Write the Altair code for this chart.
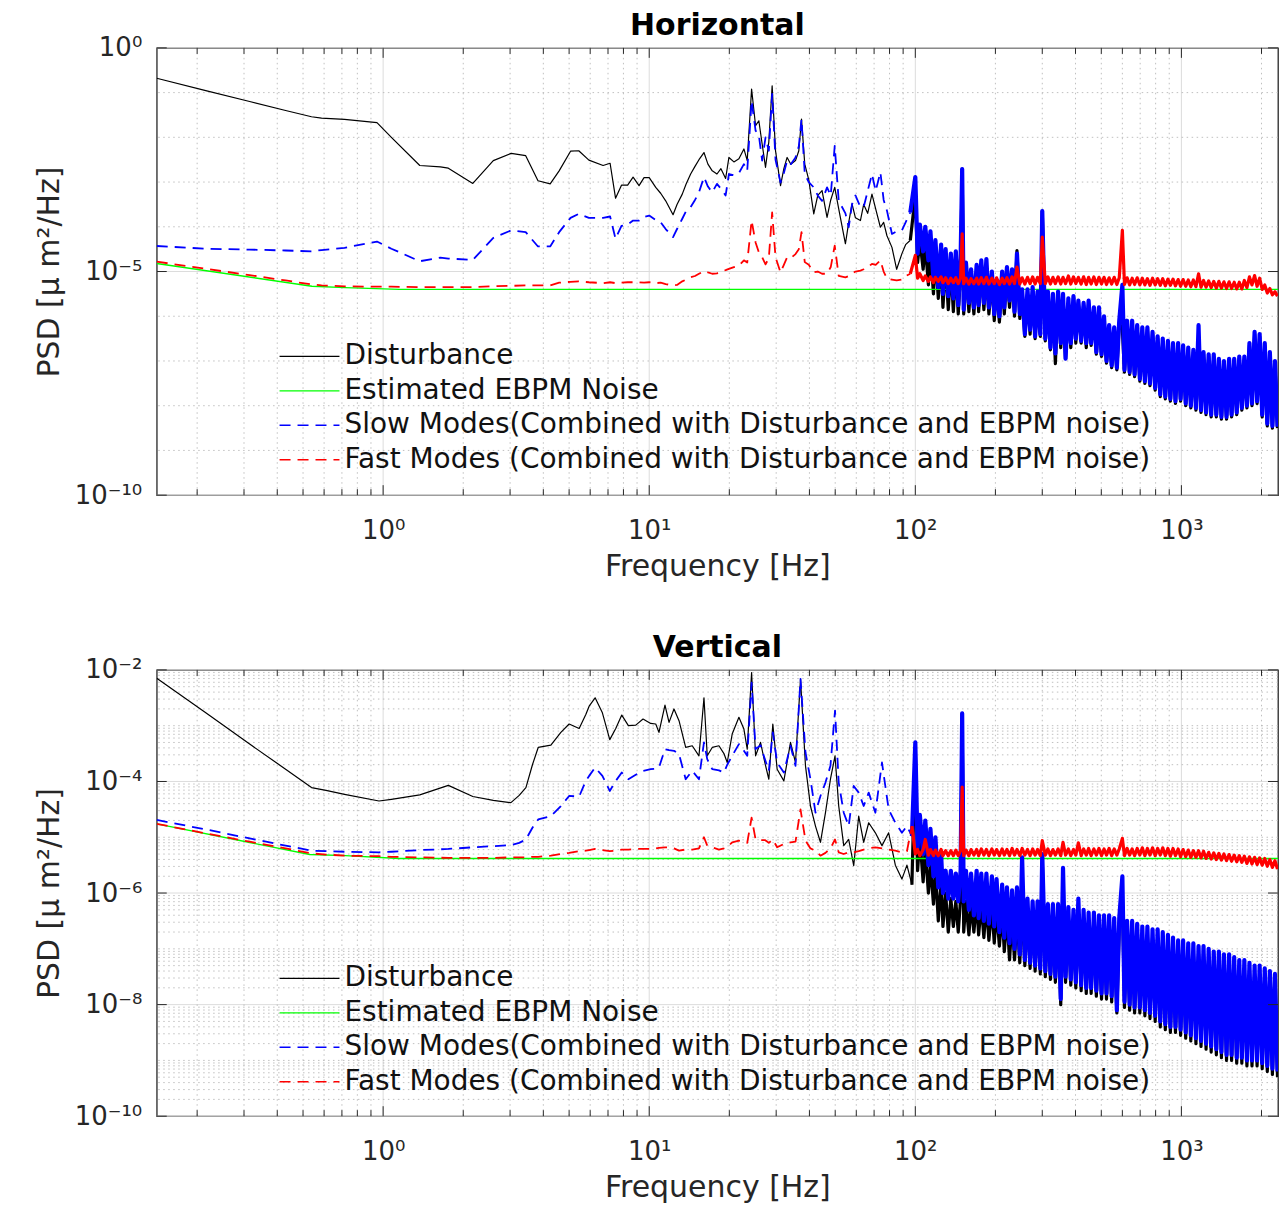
import json
import altair as alt
import numpy as np
import pandas as pd

FONT = "DejaVu Sans"
INK = "#262626"

# ---------------- legend / series definitions ----------------
series_names = [
    "Disturbance",
    "Estimated EBPM Noise",
    "Slow Modes(Combined with Disturbance and EBPM noise)",
    "Fast Modes (Combined with Disturbance and EBPM noise)",
]
series_colors = ["#000000", "#00ff00", "#0000ff", "#ff0000"]
series_dash = [None, None, [11, 7], [11, 7]]
series_width = [1.2, 1.4, 1.8, 1.8]
dense_width = [3.2, 1.4, 4.2, 3.2]

# ---------------- axis ticks ----------------
x_major = [1, 10, 100, 1000]
x_major_labels = ["10⁰", "10¹", "10²", "10³"]
x_minor = [0.2, 0.3, 0.4, 0.5, 0.6, 0.7, 0.8, 0.9, 2, 3, 4, 5, 6, 7, 8, 9,
           20, 30, 40, 50, 60, 70, 80, 90, 200, 300, 400, 500, 600, 700, 800, 900, 2000]

h_y_major = [1e-10, 1e-5, 1.0]
h_y_major_labels = ["10⁻¹⁰", "10⁻⁵", "10⁰"]
h_y_minor = [1e-9, 1e-8, 1e-7, 1e-6, 1e-4, 1e-3, 1e-2, 1e-1]

v_y_major = [1e-10, 1e-8, 1e-6, 1e-4, 1e-2]
v_y_major_labels = ["10⁻¹⁰", "10⁻⁸", "10⁻⁶", "10⁻⁴", "10⁻²"]
v_y_minor = [m * d for d in [1e-10, 1e-9, 1e-8, 1e-7, 1e-6, 1e-5, 1e-4, 1e-3]
             for m in [2, 3, 4, 5, 6, 7, 8, 9]] + [1e-9, 1e-7, 1e-5, 1e-3]

# ---------------- data (PSD values stored as log10 exponents) ----------------
# shared high-frequency grid (Hz)
freq_high = [
    100, 102, 104, 107, 109, 112, 114, 117, 119, 122, 125, 127,
    130, 133, 136, 139, 142, 145, 148, 150, 152, 155, 159, 162,
    166, 170, 173, 177, 181, 185, 189, 194, 198, 202, 207, 212,
    216, 221, 226, 231, 236, 241, 247, 252, 258, 264, 270, 276,
    282, 288, 295, 300, 308, 315, 322, 329, 336, 344, 352, 359,
    367, 376, 384, 393, 401, 410, 420, 429, 439, 448, 458, 469,
    479, 490, 501, 512, 523, 535, 547, 559, 572, 584, 600, 611,
    625, 639, 653, 667, 682, 698, 713, 729, 745, 762, 779, 797,
    814, 833, 851, 870, 890, 909, 930, 950, 972, 993, 1015, 1038,
    1061, 1085, 1109, 1134, 1160, 1185, 1211, 1238, 1266, 1294, 1323, 1353,
    1383, 1414, 1445, 1478, 1511, 1544, 1579, 1614, 1650, 1687, 1724, 1763,
    1802, 1842, 1884, 1925, 1968, 2012, 2057, 2103, 2150, 2198, 2247, 2297,
]

# ---- Horizontal ----
h_freq_a = [0.141, 0.2155, 0.315, 0.430, 0.538, 0.587, 0.716, 0.948, 1.074, 1.373,
            1.641, 1.758, 2.173, 2.594, 3.030, 3.434, 3.819, 4.244, 4.586, 5.062,
            5.435, 5.933, 6.709, 7.127, 7.472, 7.865, 8.298, 8.697, 9.157, 9.561]
h_dist_a = [-0.68, -0.955, -1.20, -1.40, -1.54, -1.57, -1.60, -1.67, -2.0, -2.63,
            -2.66, -2.69, -3.03, -2.52, -2.36, -2.41, -2.97, -3.04, -2.75, -2.31,
            -2.30, -2.51, -2.63, -2.58, -3.36, -3.07, -3.07, -2.89, -3.08, -2.9]
h_slow_a = [-4.43, -4.49, -4.51, -4.53, -4.55, -4.52, -4.47, -4.33, -4.49, -4.77,
            -4.69, -4.71, -4.74, -4.25, -4.08, -4.12, -4.44, -4.44, -4.12, -3.80,
            -3.71, -3.80, -3.80, -3.77, -4.27, -3.98, -3.95, -3.86, -3.86, -3.78]
h_fast_a = [-4.78, -4.94, -5.08, -5.2, -5.29, -5.31, -5.33, -5.34, -5.34, -5.35,
            -5.35, -5.35, -5.35, -5.33, -5.32, -5.31, -5.31, -5.31, -5.25, -5.23,
            -5.22, -5.24, -5.26, -5.24, -5.26, -5.25, -5.24, -5.24, -5.24, -5.25]

h_freq_b = [10.0, 10.58, 11.04, 11.53, 12.29, 12.72, 13.31, 13.75, 14.31, 14.86,
            15.38, 16.06, 16.62, 17.25, 17.97, 18.60, 19.37, 19.93, 20.81, 21.73,
            22.69, 23.35, 24.25, 25.10, 25.82, 26.57, 27.36, 28.15, 28.97, 29.83,
            31.15, 32.06, 32.98, 34.05, 35.46, 36.49, 37.35, 38.42, 39.78, 41.53,
            42.99, 44.62, 46.59, 48.10, 49.79, 51.54, 54.62, 56.20, 57.83, 59.56,
            62.18, 63.97, 66.22, 68.72, 70.96, 73.91, 76.03, 78.24, 81.70, 85.09,
            89.05, 91.95, 95.76]
h_dist_b = [-2.9, -3.12, -3.25, -3.42, -3.73, -3.5, -3.27, -3.05, -2.82, -2.65,
            -2.5, -2.34, -2.6, -2.75, -2.82, -2.7, -2.92, -2.45, -2.55, -2.48,
            -2.26, -2.52, -0.92, -1.74, -1.63, -2.15, -2.67, -2.1, -0.85, -2.30,
            -3.08, -2.7, -2.45, -2.6, -2.52, -2.3, -1.59, -2.6, -2.95, -3.71,
            -3.3, -3.19, -3.79, -3.4, -3.12, -3.6, -4.38, -3.9, -3.49, -3.8,
            -3.86, -3.5, -3.7, -3.27, -3.6, -4.01, -3.9, -4.2, -4.46, -4.95,
            -4.6, -4.4, -4.3]
h_slow_b = [-3.75, -3.85, -3.90, -4.05, -4.23, -4.05, -3.82, -3.65, -3.56, -3.40,
            -3.23, -2.89, -3.1, -3.23, -3.04, -3.15, -3.30, -2.82, -2.85, -2.8,
            -2.60, -2.75, -1.18, -1.85, -1.95, -2.52, -2.0, -2.3, -1.03, -2.5,
            -3.01, -2.8, -2.52, -2.6, -2.45, -2.2, -1.59, -2.82, -3.0, -3.12,
            -3.3, -3.42, -3.12, -3.3, -2.19, -3.42, -3.7, -4.01, -3.5, -3.30,
            -3.56, -3.56, -3.2, -2.82, -3.2, -2.78, -3.4, -3.64, -4.16, -4.1,
            -4.08, -3.9, -3.68]
h_fast_b = [-5.24, -5.26, -5.25, -5.28, -5.31, -5.3, -5.22, -5.18, -5.13, -5.10,
            -5.05, -4.99, -5.02, -5.05, -5.04, -5.0, -4.97, -4.94, -4.9, -4.87,
            -4.75, -4.8, -3.86, -4.35, -4.57, -4.68, -4.84, -4.7, -3.68, -4.68,
            -5.02, -4.85, -4.68, -4.7, -4.61, -4.5, -4.12, -4.79, -4.85, -5.02,
            -5.0, -5.05, -5.05, -4.9, -4.42, -5.1, -5.13, -5.1, -5.05, -5.0,
            -4.98, -4.95, -4.9, -4.83, -4.85, -4.75, -5.0, -5.16, -5.18, -5.2,
            -5.18, -5.1, -5.05]

h_dist_c = [
    -3.3, -4.8, -4.3, -4.95, -4.4, -5.3, -4.5, -5.5, -4.6, -5.6, -4.7, -5.8,
    -4.8, -5.85, -4.9, -5.9, -4.9, -5.95, -5.0, -2.71, -5.95, -5.0, -5.9, -5.1,
    -5.95, -5.0, -5.9, -4.9, -5.85, -5.0, -5.95, -5.2, -6.1, -5.3, -6.13, -5.2,
    -5.95, -5.0, -5.8, -5.1, -6.0, -4.53, -6.05, -5.5, -6.45, -5.5, -6.4, -5.45,
    -6.5, -5.55, -6.45, -3.65, -6.55, -5.55, -6.75, -5.6, -7.06, -5.55, -6.7, -5.6,
    -6.95, -5.7, -6.7, -5.6, -6.6, -5.7, -6.6, -5.75, -6.7, -5.7, -6.65, -5.85,
    -6.85, -5.85, -6.9, -6.05, -7.05, -6.25, -7.15, -6.3, -7.2, -6.15, -6.3, -7.25,
    -6.15, -7.3, -6.15, -7.35, -6.25, -7.45, -6.3, -7.5, -6.3, -7.55, -6.4, -7.65,
    -6.5, -7.8, -6.55, -7.85, -6.6, -7.9, -6.65, -7.95, -6.65, -7.9, -6.7, -8.0,
    -6.75, -8.05, -6.8, -8.1, -6.9, -8.15, -6.85, -8.2, -6.9, -8.25, -6.9, -8.25,
    -7.0, -8.3, -7.05, -8.3, -7.0, -8.25, -7.0, -8.2, -6.95, -8.1, -6.95, -8.05,
    -6.65, -8.0, -6.4, -7.95, -6.45, -8.25, -6.65, -8.45, -6.85, -8.5, -7.05, -8.5,
]
h_slow_c = [
    -2.89, -4.6, -3.95, -4.55, -4.0, -4.75, -4.1, -5.2, -4.3, -5.35, -4.4, -5.5,
    -4.5, -5.55, -4.6, -5.6, -4.55, -5.75, -4.7, -2.71, -5.85, -4.8, -5.7, -4.95,
    -5.8, -4.85, -5.75, -4.75, -5.7, -4.72, -5.8, -5.0, -5.95, -5.2, -6.0, -5.0,
    -5.8, -4.9, -5.65, -4.95, -5.9, -4.6, -5.95, -5.4, -6.4, -5.4, -6.3, -5.35,
    -6.45, -5.45, -6.4, -3.65, -6.5, -5.45, -6.7, -5.5, -6.83, -5.45, -6.6, -5.5,
    -6.95, -5.6, -6.6, -5.55, -6.5, -5.65, -6.55, -5.7, -6.6, -5.65, -6.6, -5.8,
    -6.8, -5.8, -6.85, -6.0, -7.0, -6.2, -7.1, -6.25, -7.15, -6.1, -5.3, -7.2,
    -6.1, -7.25, -6.1, -7.3, -6.2, -7.4, -6.25, -7.45, -6.25, -7.5, -6.35, -7.6,
    -6.45, -7.75, -6.5, -7.8, -6.55, -7.85, -6.6, -7.9, -6.6, -7.85, -6.65, -7.95,
    -6.7, -8.0, -6.75, -8.05, -6.2, -8.1, -6.8, -8.15, -6.85, -8.2, -6.85, -8.2,
    -6.95, -8.25, -7.0, -8.25, -6.95, -8.2, -6.95, -8.15, -6.9, -8.05, -6.9, -8.0,
    -6.6, -7.95, -6.35, -7.9, -6.4, -8.2, -6.6, -8.4, -6.8, -8.45, -7.0, -8.47,
]
h_fast_c = [
    -4.64, -5.15, -5.05, -5.2, -5.1, -5.22, -5.12, -5.25, -5.13, -5.22, -5.12, -5.25,
    -5.14, -5.27, -5.15, -5.25, -5.14, -5.27, -5.15, -4.16, -5.27, -5.15, -5.28, -5.16,
    -5.27, -5.15, -5.28, -5.14, -5.27, -5.13, -5.28, -5.15, -5.27, -5.14, -5.29, -5.15,
    -5.27, -5.14, -5.28, -5.12, -5.27, -4.9, -5.28, -5.14, -5.28, -5.13, -5.27, -5.12,
    -5.28, -5.13, -5.27, -4.23, -5.27, -5.12, -5.28, -5.13, -5.27, -5.12, -5.28, -5.13,
    -5.27, -5.1, -5.28, -5.12, -5.27, -5.13, -5.28, -5.12, -5.29, -5.13, -5.28, -5.12,
    -5.29, -5.13, -5.28, -5.13, -5.29, -5.14, -5.28, -5.13, -5.29, -5.14, -4.08, -5.29,
    -5.14, -5.3, -5.15, -5.29, -5.14, -5.3, -5.15, -5.3, -5.16, -5.31, -5.15, -5.3,
    -5.16, -5.31, -5.16, -5.32, -5.17, -5.31, -5.17, -5.32, -5.18, -5.33, -5.18, -5.33,
    -5.19, -5.34, -5.19, -5.34, -5.05, -5.35, -5.2, -5.35, -5.21, -5.36, -5.22, -5.37,
    -5.22, -5.37, -5.23, -5.38, -5.23, -5.38, -5.24, -5.39, -5.24, -5.39, -5.2, -5.36,
    -5.12, -5.3, -5.09, -5.33, -5.15, -5.4, -5.3, -5.48, -5.38, -5.52, -5.45, -5.55,
]
h_noise_freq = [0.141, 0.54, 0.72, 1.15, 2310]
h_noise = [-4.82, -5.33, -5.36, -5.40, -5.40]

# ---- Vertical ----
v_freq_a = [0.141, 0.2155, 0.315, 0.430, 0.538, 0.610, 0.716, 0.965, 1.074, 1.373,
            1.758, 2.173, 2.594, 3.022, 3.246, 3.44, 3.64, 3.826, 4.27, 4.655,
            5.0, 5.453, 5.777, 5.945, 6.261, 6.668, 7.108, 7.485, 7.885, 8.349,
            8.899, 9.478]
v_dist_a = [-2.15, -2.77, -3.33, -3.78, -4.11, -4.16, -4.23, -4.35, -4.32, -4.24,
            -4.07, -4.27, -4.34, -4.38, -4.25, -4.11, -3.7, -3.39, -3.35, -3.12,
            -2.97, -3.05, -2.8, -2.65, -2.50, -2.77, -3.25, -3.05, -2.81, -3.0,
            -2.99, -2.88]
v_slow_a = [-4.69, -4.86, -5.02, -5.15, -5.24, -5.25, -5.26, -5.27, -5.26, -5.23,
            -5.21, -5.18, -5.16, -5.14, -5.1, -5.04, -4.83, -4.68, -4.62, -4.44,
            -4.26, -4.27, -3.99, -3.9, -3.75, -3.90, -4.17, -3.99, -3.84, -3.96,
            -3.88, -3.81]
v_fast_a = [-4.76, -4.93, -5.08, -5.2, -5.29, -5.31, -5.33, -5.34, -5.35, -5.36,
            -5.37, -5.37, -5.37, -5.36, -5.36, -5.36, -5.35, -5.35, -5.33, -5.3,
            -5.28, -5.25, -5.24, -5.23, -5.21, -5.23, -5.25, -5.24, -5.22, -5.22,
            -5.21, -5.21]

v_freq_b = [10.13, 10.58, 10.88, 11.46, 11.87, 12.39, 12.94, 13.71, 14.51, 15.38,
            16.06, 16.52, 17.25, 18.28, 19.09, 19.64, 20.50, 21.73, 22.69, 23.35,
            24.25, 25.10, 26.20, 27.20, 28.15, 29.14, 30.25, 32.06, 33.96, 35.46,
            37.03, 38.66, 40.36, 42.15, 44.01, 45.96, 47.98, 49.92, 51.54, 53.83,
            56.20, 58.68, 61.27, 63.97, 66.80, 70.78, 74.94, 79.39, 84.14, 89.05,
            93.0, 97.10]
v_dist_b = [-2.96, -2.97, -3.12, -2.63, -2.94, -2.70, -2.91, -3.39, -3.36, -3.54,
            -2.50, -3.54, -3.39, -3.36, -3.5, -3.66, -3.15, -2.85, -3.06, -3.42,
            -2.05, -3.54, -3.30, -3.66, -3.96, -2.97, -3.78, -3.99, -3.30, -3.66,
            -2.17, -3.72, -4.44, -4.80, -5.09, -4.56, -3.96, -3.54, -4.44, -5.15,
            -5.04, -5.51, -4.62, -5.09, -4.74, -4.92, -5.15, -4.92, -5.5, -5.75,
            -5.5, -5.85]
v_slow_b = [-3.78, -3.77, -3.75, -3.42, -3.44, -3.45, -3.51, -3.96, -3.81, -3.96,
            -3.30, -3.6, -3.78, -3.8, -3.84, -3.7, -3.54, -3.33, -3.45, -3.54,
            -2.23, -3.42, -3.35, -3.6, -3.81, -3.12, -3.66, -3.84, -3.36, -3.72,
            -2.16, -3.48, -3.96, -4.56, -4.26, -4.02, -3.72, -2.73, -4.02, -4.56,
            -4.80, -4.08, -4.20, -4.44, -4.20, -4.56, -3.66, -4.50, -4.74, -4.92,
            -4.80, -4.98]
v_fast_b = [-5.21, -5.2, -5.19, -5.18, -5.18, -5.2, -5.24, -5.22, -5.22, -5.2,
            -5.0, -5.15, -5.18, -5.22, -5.2, -5.18, -5.09, -5.06, -5.08, -5.1,
            -4.65, -5.04, -5.05, -5.05, -5.1, -5.04, -5.18, -5.12, -5.09, -5.08,
            -4.50, -5.06, -5.2, -5.24, -5.33, -5.28, -5.2, -5.04, -5.27, -5.3,
            -5.27, -5.27, -5.25, -5.22, -5.2, -5.18, -5.2, -5.22, -5.24, -5.27,
            -5.25, -4.80]

v_dist_c = [
    -3.4, -5.6, -5.0, -5.8, -5.2, -6.0, -5.5, -6.2, -5.6, -6.5, -5.8, -6.6,
    -6.0, -6.7, -6.1, -6.6, -6.15, -6.7, -6.1, -2.78, -6.7, -6.15, -6.75, -6.2,
    -6.7, -6.15, -6.75, -6.2, -6.8, -6.2, -6.85, -6.25, -6.9, -6.3, -6.95, -6.35,
    -7.05, -6.4, -7.2, -6.45, -7.2, -6.4, -7.25, -6.2, -7.3, -6.3, -7.35, -6.35,
    -7.4, -6.35, -7.45, -5.4, -7.5, -6.4, -7.55, -6.4, -7.6, -6.4, -8.0, -6.0,
    -7.6, -6.4, -7.65, -6.45, -7.7, -6.35, -7.75, -6.45, -7.8, -6.5, -7.8, -6.5,
    -7.85, -6.55, -7.9, -6.55, -7.9, -6.55, -7.95, -6.6, -8.15, -6.6, -6.0, -8.05,
    -6.65, -8.1, -6.65, -8.15, -6.7, -8.15, -6.75, -8.2, -6.75, -8.25, -6.8, -8.3,
    -6.8, -8.4, -6.85, -8.45, -6.9, -8.5, -6.95, -8.5, -7.0, -8.55, -7.0, -8.6,
    -7.05, -8.65, -7.05, -8.7, -7.1, -8.75, -7.1, -8.8, -7.15, -8.85, -7.2, -8.9,
    -7.2, -8.95, -7.25, -9.0, -7.25, -9.0, -7.3, -9.05, -7.35, -9.05, -7.35, -9.1,
    -7.4, -9.1, -7.45, -9.1, -7.45, -9.15, -7.5, -9.2, -7.55, -9.25, -7.6, -9.3,
]
v_slow_c = [
    -3.3, -5.2, -4.6, -5.3, -4.7, -5.5, -4.85, -5.7, -5.0, -5.9, -5.3, -6.0,
    -5.6, -6.1, -5.6, -6.1, -5.65, -6.15, -5.6, -2.78, -6.15, -5.6, -6.3, -5.65,
    -6.4, -5.6, -6.45, -5.65, -6.5, -5.65, -6.55, -5.7, -6.6, -5.75, -6.7, -5.85,
    -6.8, -5.9, -6.9, -5.95, -7.0, -5.9, -7.1, -5.36, -7.2, -6.1, -7.25, -6.15,
    -7.3, -6.15, -7.35, -5.3, -7.4, -6.2, -7.45, -6.2, -7.5, -6.2, -7.9, -5.55,
    -7.5, -6.25, -7.55, -6.3, -7.6, -6.1, -7.65, -6.3, -7.7, -6.35, -7.7, -6.35,
    -7.75, -6.4, -7.8, -6.4, -7.8, -6.4, -7.85, -6.45, -8.1, -6.45, -5.7, -7.95,
    -6.5, -8.0, -6.5, -8.05, -6.55, -8.05, -6.6, -8.1, -6.6, -8.15, -6.65, -8.2,
    -6.65, -8.3, -6.7, -8.35, -6.75, -8.4, -6.8, -8.4, -6.85, -8.45, -6.85, -8.5,
    -6.9, -8.55, -6.9, -8.6, -6.95, -8.65, -6.95, -8.7, -7.0, -8.75, -7.05, -8.8,
    -7.05, -8.85, -7.1, -8.9, -7.1, -8.9, -7.15, -8.95, -7.2, -8.95, -7.2, -9.0,
    -7.25, -9.0, -7.3, -9.0, -7.3, -9.05, -7.35, -9.1, -7.4, -9.15, -7.45, -9.2,
]
v_fast_c = [
    -5.3, -5.22, -5.33, -5.22, -5.04, -5.32, -5.22, -5.33, -5.23, -5.33, -5.22, -5.33,
    -5.24, -5.33, -5.24, -5.33, -5.23, -5.33, -5.24, -4.1, -5.33, -5.23, -5.33, -5.22,
    -5.32, -5.22, -5.33, -5.21, -5.32, -5.22, -5.33, -5.21, -5.32, -5.22, -5.33, -5.21,
    -5.32, -5.22, -5.33, -5.2, -5.32, -5.22, -5.33, -5.2, -5.32, -5.22, -5.33, -5.21,
    -5.32, -5.22, -5.33, -5.06, -5.32, -5.21, -5.33, -5.22, -5.32, -5.21, -5.33, -5.09,
    -5.32, -5.21, -5.33, -5.22, -5.32, -5.1, -5.33, -5.21, -5.32, -5.2, -5.33, -5.21,
    -5.32, -5.2, -5.33, -5.21, -5.32, -5.2, -5.33, -5.21, -5.32, -5.21, -5.02, -5.33,
    -5.2, -5.32, -5.21, -5.33, -5.2, -5.32, -5.19, -5.33, -5.2, -5.32, -5.19, -5.33,
    -5.2, -5.32, -5.19, -5.33, -5.2, -5.34, -5.2, -5.33, -5.21, -5.35, -5.22, -5.35,
    -5.23, -5.36, -5.24, -5.36, -5.24, -5.37, -5.25, -5.38, -5.27, -5.39, -5.28, -5.4,
    -5.29, -5.41, -5.3, -5.42, -5.31, -5.43, -5.32, -5.44, -5.33, -5.45, -5.34, -5.47,
    -5.35, -5.48, -5.36, -5.49, -5.37, -5.5, -5.38, -5.52, -5.4, -5.54, -5.42, -5.57,
]
v_noise_freq = [0.141, 0.53, 0.72, 1.15, 2310]
v_noise = [-4.76, -5.31, -5.33, -5.38, -5.38]

# ---------------- layout constants ----------------
W = 1123
H_TOP = 448
H_BOT = 447
X_DOMAIN = [0.141, 2307]
LEG_X0, LEG_X1, LEG_TX = 123, 183, 188
LEG_Y0, LEG_DY = 309, 34.5
MAJOR_TICK, MINOR_TICK = 10, 6


def label_expr(values, labels):
    return "%s[indexof(%s, datum.value)]" % (
        json.dumps(labels, ensure_ascii=False), json.dumps(values))


def build_panel(title, height, y_domain, y_major, y_major_labels, y_minor,
                lo_f, lo_dist, lo_slow, lo_fast, hi_dist, hi_slow, hi_fast,
                noise_f, noise_v):
    xs = alt.Scale(type="log", domain=X_DOMAIN, nice=False)
    ys = alt.Scale(type="log", domain=y_domain, nice=False)
    xaxis = alt.Axis(
        values=x_major, labelExpr=label_expr(x_major, x_major_labels),
        title="Frequency [Hz]", grid=False, ticks=False, tickSize=0, domain=False,
        labelFont=FONT, labelFontSize=26, labelColor=INK, labelPadding=22,
        labelFlush=False, labelOverlap=False,
        titleFont=FONT, titleFontSize=30, titleFontWeight="normal",
        titleColor=INK, titlePadding=8)
    yaxis = alt.Axis(
        values=y_major, labelExpr=label_expr(y_major, y_major_labels),
        title="PSD [μ m²/Hz]", grid=False, ticks=False, tickSize=0, domain=False,
        labelFont=FONT, labelFontSize=26, labelColor=INK, labelPadding=15,
        labelFlush=False, labelOverlap=False,
        titleFont=FONT, titleFontSize=30, titleFontWeight="normal",
        titleColor=INK, titlePadding=10)

    def X(field):
        return alt.X(field, scale=xs, axis=xaxis)

    def Y(field):
        return alt.Y(field, scale=ys, axis=yaxis)

    layers = []
    # major grids (solid light)
    layers.append(alt.Chart(pd.DataFrame({"v": x_major})).mark_rule(
        color="#dcdcdc", strokeWidth=1).encode(x=X("v:Q")))
    layers.append(alt.Chart(pd.DataFrame({"v": y_major})).mark_rule(
        color="#dcdcdc", strokeWidth=1).encode(y=Y("v:Q")))
    # minor grids (dotted)
    layers.append(alt.Chart(pd.DataFrame({"v": x_minor})).mark_rule(
        color="#b9b9b9", strokeWidth=0.9, strokeDash=[1.5, 3.5]).encode(x=X("v:Q")))
    layers.append(alt.Chart(pd.DataFrame({"v": y_minor})).mark_rule(
        color="#b9b9b9", strokeWidth=0.9, strokeDash=[1.5, 3.5]).encode(y=Y("v:Q")))

    # data lines, drawn in the legend order
    hi_f = lo_f[-1:] + freq_high
    line_sets = [
        [(lo_f, lo_dist, True), (hi_f, lo_dist[-1:] + hi_dist, False)],
        [(noise_f, noise_v, True)],
        [(lo_f, lo_slow, True), (hi_f, lo_slow[-1:] + hi_slow, False)],
        [(lo_f, lo_fast, True), (hi_f, lo_fast[-1:] + hi_fast, False)],
    ]
    for parts, color, dash, width, dwidth in zip(line_sets, series_colors, series_dash,
                                                 series_width, dense_width):
        for fx, fy, styled in parts:
            df = pd.DataFrame({"freq": fx, "psd": 10.0 ** np.asarray(fy, dtype=float)})
            kw = dict(color=color, strokeWidth=width if styled else dwidth,
                      clip=True, strokeJoin="round")
            if dash is not None and styled:
                kw["strokeDash"] = dash
            layers.append(alt.Chart(df).mark_line(**kw).encode(
                x=X("freq:Q"), y=Y("psd:Q")))

    # inward tick marks (box ticks)
    for vals, ln in ((x_major, MAJOR_TICK), (x_minor, MINOR_TICK)):
        d = pd.DataFrame({"v": vals})
        layers.append(alt.Chart(d).mark_rule(color=INK, strokeWidth=1).encode(
            x=X("v:Q"), y=alt.value(height), y2=alt.value(height - ln)))
        layers.append(alt.Chart(d).mark_rule(color=INK, strokeWidth=1).encode(
            x=X("v:Q"), y=alt.value(0), y2=alt.value(ln)))
    d = pd.DataFrame({"v": y_major})
    layers.append(alt.Chart(d).mark_rule(color=INK, strokeWidth=1).encode(
        y=Y("v:Q"), x=alt.value(0), x2=alt.value(MAJOR_TICK)))
    layers.append(alt.Chart(d).mark_rule(color=INK, strokeWidth=1).encode(
        y=Y("v:Q"), x=alt.value(W), x2=alt.value(W - MAJOR_TICK)))

    # legend (inside the axes, no box)
    for i, (name, color, dash, width) in enumerate(zip(series_names, series_colors,
                                                       series_dash, series_width)):
        ypos = LEG_Y0 + i * LEG_DY
        d = pd.DataFrame({"label": [name]})
        kw = dict(color=color, strokeWidth=1.4)
        if dash is not None:
            kw["strokeDash"] = dash
        layers.append(alt.Chart(d).mark_rule(**kw).encode(
            x=alt.value(LEG_X0), x2=alt.value(LEG_X1), y=alt.value(ypos)))
        layers.append(alt.Chart(d).mark_text(
            align="left", baseline="middle", font=FONT, fontSize=28,
            color="#111111").encode(
            x=alt.value(LEG_TX), y=alt.value(ypos), text="label:N"))

    return alt.layer(*layers).properties(
        width=W, height=height,
        title=alt.TitleParams(text=title, font=FONT, fontSize=30, fontWeight="bold",
                              anchor="middle", frame="group", offset=-6, color="#000000"))


top = build_panel("Horizontal", H_TOP, [1e-10, 1.0], h_y_major, h_y_major_labels, h_y_minor,
                  h_freq_a + h_freq_b,
                  h_dist_a + h_dist_b, h_slow_a + h_slow_b, h_fast_a + h_fast_b,
                  h_dist_c, h_slow_c, h_fast_c,
                  h_noise_freq, h_noise)
bottom = build_panel("Vertical", H_BOT, [1e-10, 1e-2], v_y_major, v_y_major_labels, v_y_minor,
                     v_freq_a + v_freq_b,
                     v_dist_a + v_dist_b, v_slow_a + v_slow_b, v_fast_a + v_fast_b,
                     v_dist_c, v_slow_c, v_fast_c,
                     v_noise_freq, v_noise)

chart = alt.vconcat(top, bottom, spacing=50).properties(
    padding={"left": 33, "top": 9, "right": 0, "bottom": 0},
    background="white",
).configure_view(stroke=INK, strokeWidth=1.3)

chart.save("out.html", embed_options={"renderer": "svg", "actions": False})
